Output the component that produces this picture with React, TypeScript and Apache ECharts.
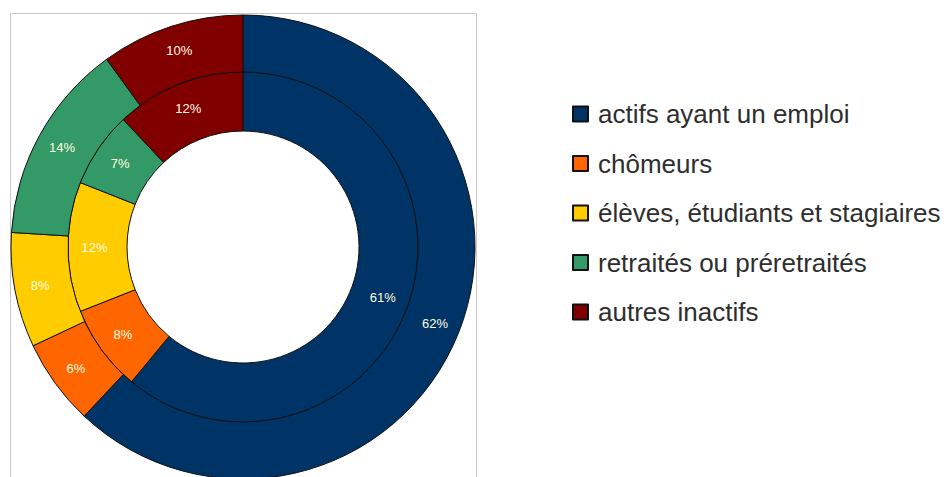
import React, { useEffect, useRef } from "react";
import * as echarts from "echarts";

const categories = [
  "actifs ayant un emploi",
  "chômeurs",
  "élèves, étudiants et stagiaires",
  "retraités ou préretraités",
  "autres inactifs",
];
const innerValues = [61, 8, 12, 7, 12];
const outerValues = [62, 6, 8, 14, 10];
const colors = ["#003366", "#ff6600", "#ffcc00", "#339966", "#800000"];

export default function App() {
  const ref = useRef<HTMLDivElement>(null);
  useEffect(() => {
    document.body.style.margin = "0";
    if (!ref.current) return;
    const chart = echarts.init(ref.current, undefined, { renderer: "svg" });
    const mk = (vals: number[]) =>
      vals.map((v, i) => ({ name: categories[i], value: v, itemStyle: { color: colors[i] } }));
    const label = {
      show: true,
      position: "inside",
      formatter: "{c}%",
      color: "#ffffe0",
      fontSize: 13,
      fontFamily: "Liberation Sans, Arial, sans-serif",
    };
    const itemStyle = { borderColor: "#111111", borderWidth: 1 };
    chart.setOption({
      animation: false,
      backgroundColor: "#ffffff",
      color: colors,
      graphic: [
        {
          type: "rect",
          z: -10,
          shape: { x: 10.5, y: 13.5, width: 466, height: 520 },
          style: { fill: "none", stroke: "#c8c8c8", lineWidth: 1 },
        },
      ],
      legend: {
        orient: "vertical",
        left: 567,
        top: 96,
        icon: "rect",
        itemWidth: 15,
        itemHeight: 15,
        itemGap: 23.5,
        selectedMode: false,
        data: categories,
        textStyle: {
          fontSize: 26,
          color: "#2e2e2e",
          fontFamily: "Liberation Sans, Arial, sans-serif",
          padding: [0, 0, 0, 5],
        },
      },
      series: [
        {
          type: "pie",
          center: [243, 247],
          radius: [116, 175],
          startAngle: 90,
          clockwise: true,
          silent: true,
          avoidLabelOverlap: false,
          label,
          labelLine: { show: false },
          itemStyle,
          data: mk(innerValues),
        },
        {
          type: "pie",
          center: [243, 247],
          radius: [175, 232],
          startAngle: 90,
          clockwise: true,
          silent: true,
          avoidLabelOverlap: false,
          label,
          labelLine: { show: false },
          itemStyle,
          data: mk(outerValues),
        },
      ],
    });
    return () => chart.dispose();
  }, []);
  return (
    <div
      ref={ref}
      style={{ position: "absolute", left: 0, top: 0, width: 944, height: 477 }}
    />
  );
}
